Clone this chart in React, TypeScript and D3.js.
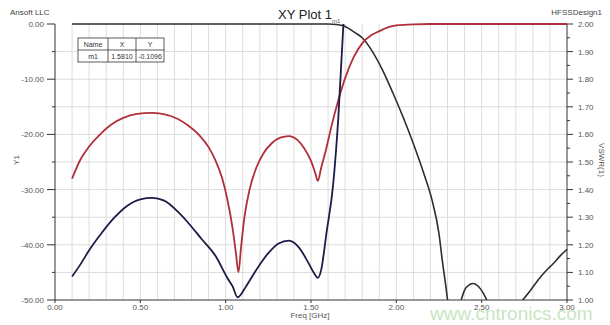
import React from "react";
import * as d3 from "d3";

// red trace (Y1, dB)
const redFreq = [0.10, 0.15, 0.20, 0.27, 0.33, 0.40, 0.48, 0.57, 0.65, 0.72, 0.78, 0.85, 0.90, 0.94, 0.98, 1.01, 1.04, 1.06, 1.075, 1.09, 1.11, 1.14, 1.18, 1.22, 1.27, 1.32, 1.37, 1.42, 1.46, 1.50, 1.525, 1.54, 1.56, 1.59, 1.62, 1.66, 1.70, 1.75, 1.80, 1.85, 1.90, 1.95, 2.00, 2.10, 2.20, 3.00];
const redDb = [-28.0, -24.5, -22.2, -19.8, -18.2, -17.0, -16.3, -16.1, -16.4, -17.2, -18.4, -20.3, -22.3, -24.7, -28.0, -31.8, -36.9, -41.5, -45.0, -40.5, -35.0, -30.0, -26.0, -23.5, -21.6, -20.6, -20.3, -21.0, -22.5, -24.8, -27.0, -28.4, -26.0, -22.5, -18.5, -13.8, -9.8, -6.0, -3.5, -2.1, -1.3, -0.6, -0.25, -0.05, 0, 0];

// navy trace (VSWR(1), right axis)
const vswrFreq = [0.10, 0.15, 0.20, 0.27, 0.35, 0.42, 0.50, 0.57, 0.64, 0.72, 0.78, 0.86, 0.94, 1.01, 1.04, 1.07, 1.12, 1.18, 1.25, 1.31, 1.37, 1.43, 1.48, 1.52, 1.54, 1.56, 1.59, 1.63, 1.66, 1.69];
const vswrVal = [1.085, 1.13, 1.18, 1.24, 1.30, 1.34, 1.365, 1.37, 1.36, 1.32, 1.28, 1.22, 1.16, 1.08, 1.05, 1.01, 1.05, 1.11, 1.17, 1.205, 1.215, 1.19, 1.14, 1.095, 1.08, 1.11, 1.24, 1.42, 1.66, 2.00];

// black trace (Y1, dB); null = below the axis floor
const blackFreq = [0.10, 1.00, 1.60, 1.65, 1.69, 1.72, 1.76, 1.80, 1.86, 1.92, 1.98, 2.04, 2.10, 2.16, 2.21, 2.25, 2.27, 2.29, 2.30, 2.34, 2.38, 2.40, 2.43, 2.45, 2.48, 2.51, 2.53, 2.60, 2.74, 2.78, 2.84, 2.88, 2.92, 2.96, 3.00];
const blackDb: (number | null)[] = [0, 0, 0, -0.1, -0.3, -0.8, -1.6, -2.5, -5.0, -8.4, -12.5, -16.9, -21.7, -27.0, -32.0, -38.0, -43.0, -47.5, -50, null, -50, -48.2, -47.2, -47.0, -47.5, -48.8, -50, null, -50, -48.5, -46.0, -44.6, -43.4, -42.0, -40.8];

const xTicks = [0, 0.5, 1.0, 1.5, 2.0, 2.5, 3.0];
const yTicks = [0, -10, -20, -30, -40, -50];
const vTicks = [2.0, 1.9, 1.8, 1.7, 1.6, 1.5, 1.4, 1.3, 1.2, 1.1, 1.0];

const markerHead = ["Name", "X", "Y"];
const markerRow = ["m1", "1.5810", "-0.1096"];

export default function App() {
  const W = 610, H = 325;
  const left = 55, right = 567, top = 24, bottom = 300;
  const x = d3.scaleLinear([0, 3], [left, right]);
  const y = d3.scaleLinear([-50, 0], [bottom, top]);
  const yr = d3.scaleLinear([1, 2], [bottom, top]);
  const font = "Liberation Sans, Arial, sans-serif";

  const redLine = d3.line<number>((d, i) => x(redFreq[i]), (d) => y(d)).curve(d3.curveMonotoneX);
  const vswrLine = d3.line<number>((d, i) => x(vswrFreq[i]), (d) => yr(d)).curve(d3.curveMonotoneX);
  const blackLine = d3.line<number | null>((d, i) => x(blackFreq[i]), (d) => y(d as number))
    .defined((d) => d !== null).curve(d3.curveMonotoneX);

  const vGrid = d3.range(1, 30).map((i) => i / 10);
  const hGrid = d3.range(-45, 0, 5);
  const colW = [30, 28, 28];
  const tx = 78, ty = 38;

  return (
    <svg width={W} height={H} style={{position: "absolute", left: 0, top: 0, background: "#fff"}} fontFamily={font}>
      <rect width={W} height={H} fill="#fff" />
      <g stroke="#dcdcdc" strokeWidth={1}>
        {vGrid.map((v) => <line key={"v" + v} x1={x(v)} x2={x(v)} y1={top} y2={bottom} />)}
        {hGrid.map((v) => <line key={"h" + v} x1={left} x2={right} y1={y(v)} y2={y(v)} />)}
      </g>

      {/* axes */}
      <g stroke="#333" strokeWidth={1} fill="none">
        <line x1={left} x2={left} y1={top} y2={bottom} />
        <line x1={right} x2={right} y1={top} y2={bottom} />
        <line x1={left} x2={right} y1={bottom} y2={bottom} />
        {yTicks.map((t) => <line key={"yt" + t} x1={left - 8} x2={left} y1={y(t)} y2={y(t)} />)}
        {[-5, -15, -25, -35, -45].map((t) => <line key={"ym" + t} x1={left - 3} x2={left} y1={y(t)} y2={y(t)} />)}
        {vTicks.map((t) => <line key={"vt" + t} x1={right} x2={right + 6} y1={yr(t)} y2={yr(t)} />)}
        {d3.range(1.05, 2, 0.1).map((t) => <line key={"vm" + t} x1={right} x2={right + 3} y1={yr(t)} y2={yr(t)} />)}
        {xTicks.map((t) => <line key={"xt" + t} x1={x(t)} x2={x(t)} y1={bottom} y2={bottom + 3} />)}
      </g>
      <g fontSize={8} fill="#555">
        {yTicks.map((t) => <text key={"yl" + t} x={left - 11} y={y(t) + 3} textAnchor="end">{t.toFixed(2)}</text>)}
        {vTicks.map((t) => <text key={"vl" + t} x={right + 11} y={yr(t) + 3}>{t.toFixed(2)}</text>)}
        {xTicks.map((t) => <text key={"xl" + t} x={x(t)} y={bottom + 10} textAnchor="middle">{t.toFixed(2)}</text>)}
      </g>

      {/* traces */}
      <path d={blackLine(blackDb) as string} fill="none" stroke="#2e2e2e" strokeWidth={1.6} />
      <path d={redLine(redDb) as string} fill="none" stroke="#b0303a" strokeWidth={1.8} />
      <path d={vswrLine(vswrVal) as string} fill="none" stroke="#1c1c48" strokeWidth={1.8} />

      {/* marker table */}
      <g fontSize={7} fill="#333">
        <rect x={tx} y={ty} width={d3.sum(colW)} height={24} fill="#fff" stroke="#333" strokeWidth={0.8} />
        <line x1={tx} x2={tx + d3.sum(colW)} y1={ty + 12} y2={ty + 12} stroke="#333" strokeWidth={0.8} />
        {[colW[0], colW[0] + colW[1]].map((c) => <line key={"c" + c} x1={tx + c} x2={tx + c} y1={ty} y2={ty + 24} stroke="#333" strokeWidth={0.8} />)}
        {markerHead.map((s, i) => <text key={"mh" + s} x={tx + d3.sum(colW.slice(0, i)) + colW[i] / 2} y={ty + 9} textAnchor="middle">{s}</text>)}
        {markerRow.map((s, i) => <text key={"mr" + s} x={tx + d3.sum(colW.slice(0, i)) + colW[i] / 2} y={ty + 21} textAnchor="middle">{s}</text>)}
      </g>
      <text x={x(1.69) - 3} y={top - 1} fontSize={6} fill="#555" textAnchor="end">m1</text>

      {/* titles */}
      <text x={305} y={19} fontSize={13} fill="#222" textAnchor="middle">XY Plot 1</text>
      <text x={10} y={15} fontSize={8} fill="#444">Ansoft LLC</text>
      <text x={602} y={15} fontSize={8} fill="#444" textAnchor="end">HFSSDesign1</text>
      <text transform="translate(19,160) rotate(-90)" fontSize={8} fill="#555" textAnchor="middle">Y1</text>
      <text transform="translate(599,160) rotate(90)" fontSize={8} fill="#555" textAnchor="middle">VSWR(1)</text>
      <text x={310} y={318} fontSize={8} fill="#555" textAnchor="middle">Freq [GHz]</text>
      <text x={430} y={320} fontSize={19} fill="#bfe0b8" opacity={0.85}>www.cntronics.com</text>
    </svg>
  );
}
